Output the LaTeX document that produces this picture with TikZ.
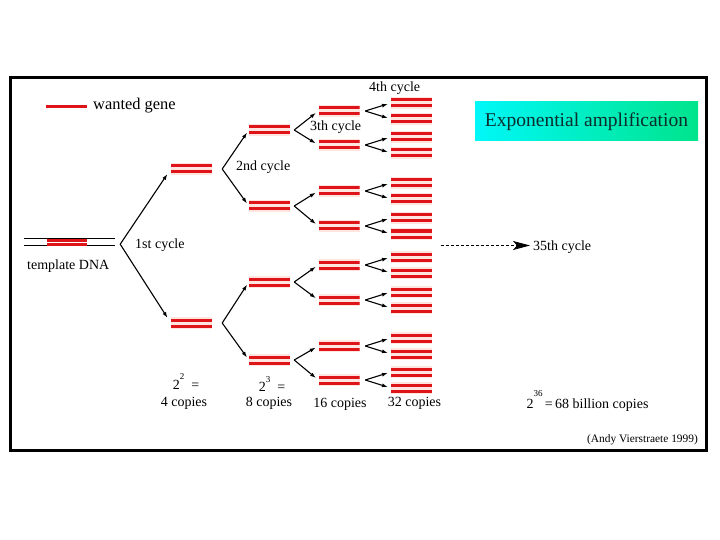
\documentclass[tikz,border=0pt]{standalone}
\usepackage{fontspec}
\setmainfont{Liberation Serif}
\usetikzlibrary{arrows.meta}
\definecolor{genered}{RGB}{222,20,24}
\definecolor{halo}{RGB}{255,228,224}
\definecolor{titlecyan}{RGB}{0,248,248}
\definecolor{titlegreen}{RGB}{0,228,140}
\definecolor{titletext}{RGB}{10,45,45}
\newcommand{\supx}[2]{\raisebox{#1}{\fontsize{9}{9}\selectfont #2}}
\tikzset{
  genepair/.style={minimum width=41pt, minimum height=12pt, inner sep=0pt, fill=halo,
    path picture={
      \draw[genered, line width=3pt] ([yshift=3pt]path picture bounding box.west) -- ([yshift=3pt]path picture bounding box.east);
      \draw[genered, line width=3pt] ([yshift=-3pt]path picture bounding box.west) -- ([yshift=-3pt]path picture bounding box.east);
    }},
  branch/.style={draw, line width=1.1pt, -{Latex[length=6pt,width=4pt]}, shorten >=3pt},
  lbl/.style={inner sep=0pt, font=\fontsize{14}{16}\selectfont},
}
\begin{document}
\begin{tikzpicture}[x=1pt,y=-1pt]
\useasboundingbox (0,0) rectangle (720,540);
% frame
\node[draw, line width=3pt, minimum width=696pt, minimum height=372pt, inner sep=0pt] (frame) at (358,264) {};
% legend
\node[fill=genered, minimum width=41pt, minimum height=3.5pt, inner sep=0pt] (legline) at (66.5,106.5) {};
\node[inner sep=0pt, font=\fontsize{16.4}{18}\selectfont, anchor=west] (leglbl) at (93,106) {wanted gene};
% template DNA
\node[minimum width=91pt, minimum height=6.5pt, inner sep=0pt] (tmpl) at (69.5,241.7) {};
\draw[line width=1.3pt] (tmpl.north west) -- (tmpl.north east) (tmpl.south west) -- (tmpl.south east);
\node[minimum width=40pt, minimum height=8pt, inner sep=0pt,
  path picture={
    \draw[genered, line width=3pt] ([yshift=2pt]path picture bounding box.west) -- ([yshift=2pt]path picture bounding box.east);
    \draw[genered, line width=3pt] ([yshift=-2pt]path picture bounding box.west) -- ([yshift=-2pt]path picture bounding box.east);
  }] (tmplgene) at (67,242) {};
\node[lbl, anchor=west] (tmpllbl) at (27,266) {template DNA};
% cycle 1
\coordinate (v0) at ([xshift=5pt,yshift=-2.5pt]tmpl.east);
\node[genepair] (p1-1) at (191.5,169) {};
\node[genepair] (p1-2) at (191.5,323) {};
\draw[branch, shorten >=6pt] (v0) -- (p1-1.west);
\draw[branch, shorten >=6pt] (v0) -- (p1-2.west);
\node[lbl, anchor=west] (cyc1) at (135,245) {1st cycle};
% cycle 2
\coordinate (v1-1) at ([xshift=10pt]p1-1.east);
\coordinate (v1-2) at ([xshift=10pt]p1-2.east);
\foreach \n/\y/\pp in {1/130/1, 2/206/1, 3/282/2, 4/360/2} {
  \node[genepair] (p2-\n) at (269.5,\y) {};
  \draw[branch] (v1-\pp) -- (p2-\n.west);
  \coordinate (v2-\n) at ([xshift=4pt]p2-\n.east);
}
\node[lbl, anchor=west] (cyc2) at (236,167.5) {2nd cycle};
% cycles 3 and 4
\foreach \n/\y/\pp in {1/111/1, 2/145/1, 3/191/2, 4/226/2, 5/265/3, 6/300/3, 7/346/4, 8/380/4} {
  \node[genepair] (p3-\n) at (339,\y) {};
  \draw[branch] (v2-\pp) -- (p3-\n.west);
  \coordinate (v3-\n) at ([xshift=5.5pt]p3-\n.east);
  \node[genepair] (p4-\n-u) at (411.5,\y-8) {};
  \node[genepair] (p4-\n-d) at (411.5,\y+8) {};
  \draw[branch] (v3-\n) -- (p4-\n-u.west);
  \draw[branch] (v3-\n) -- (p4-\n-d.west);
}
\node[lbl, anchor=west] (cyc3) at (310,127.5) {3th cycle};
\node[lbl, anchor=west] (cyc4) at (369,88) {4th cycle};
% counts
\node[lbl, anchor=base] (e2) at (186,389) {2\supx{10pt}{2}\ \ =};
\node[lbl] (n4) at (184,403) {4 copies};
\node[lbl, anchor=base] (e3) at (272,391.5) {2\supx{9.5pt}{3}\ \ =};
\node[lbl] (n8) at (269,403) {8 copies};
\node[lbl] (n16) at (340,404) {16 copies};
\node[lbl] (n32) at (414.5,403) {32 copies};
\node[lbl, anchor=base] (n36) at (587.5,408) {2\supx{12pt}{36}\,=\,68 billion copies};
% 35th cycle
\node[lbl, anchor=west] (c35) at (533,247) {35th cycle};
\coordinate (dstart) at (441,245.5);
\draw[dash pattern=on 3pt off 2pt, line width=0.8pt, -{Stealth[length=17pt,width=9pt,inset=4pt]}, shorten >=3pt] (dstart) -- (dstart -| c35.west);
% title
\node[minimum width=223pt, minimum height=39pt, inner sep=0pt, left color=titlecyan, middle color=titlecyan, right color=titlegreen,
  text=titletext, font=\fontsize{19.5}{22}\selectfont] (title) at (586.5,121.5) {Exponential amplification};
% credit
\node[inner sep=0pt, font=\fontsize{11.4}{13}\selectfont] (credit) at (642.5,440) {(Andy Vierstraete 1999)};
\end{tikzpicture}
\end{document}
